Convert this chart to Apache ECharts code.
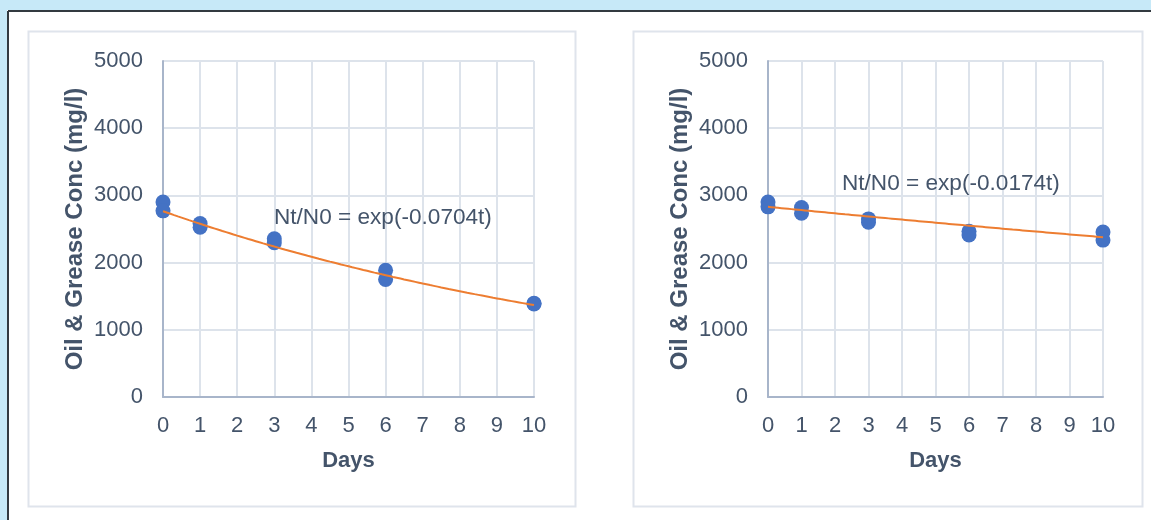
<!DOCTYPE html>
<html>
<head>
<meta charset="utf-8">
<script src="https://cdn.jsdelivr.net/npm/echarts@6/dist/echarts.min.js"></script>
<style>
  html, body { margin: 0; padding: 0; background: #c7e9f8; }
  #chart { width: 1151px; height: 520px; }
</style>
</head>
<body>
<div id="chart"></div>
<script>
// Sampling days and measured oil & grease concentrations (mg/l), two replicates per day
const days = [0, 1, 3, 6, 10];
const concA1 = [2900, 2580, 2355, 1885, 1395];
const concA2 = [2770, 2525, 2295, 1750, 1385];
const concB1 = [2900, 2820, 2650, 2465, 2455];
const concB2 = [2830, 2735, 2600, 2410, 2335];

// First-order decay fits: N = N0 * exp(k t)
const fitA = { n0: 2765, k: -0.0704, label: 'Nt/N0 = exp(-0.0704t)' };
const fitB = { n0: 2830, k: -0.0174, label: 'Nt/N0 = exp(-0.0174t)' };

const xTicks = [0, 1, 2, 3, 4, 5, 6, 7, 8, 9, 10];
const yTicks = [0, 1000, 2000, 3000, 4000, 5000];

const yTitle = 'Oil & Grease Conc (mg/l)';
const xTitle = 'Days';

function pairs(xs, ys) { return xs.map((x, i) => [x, ys[i]]); }
function fitCurve(fit) {
  const pts = [];
  for (let i = 0; i <= 100; i++) {
    const t = i / 10;
    pts.push([t, fit.n0 * Math.exp(fit.k * t)]);
  }
  return pts;
}

const textColor = '#44546a';
const axisLineColor = '#a8b5ca';
const gridColor = '#dde3eb';
const font = 'Liberation Sans, Arial, sans-serif';

function xAxis(gridIndex) {
  return {
    gridIndex, type: 'value', min: 0, max: 10, interval: 1,
    name: xTitle, nameLocation: 'middle', nameGap: 53,
    nameTextStyle: { color: textColor, fontSize: 22, fontWeight: 'bold', fontFamily: font },
    axisLine: { show: true, lineStyle: { color: axisLineColor, width: 2 } },
    axisTick: { show: false },
    axisLabel: { color: textColor, fontSize: 22, fontFamily: font, margin: 18,
      formatter: v => xTicks.includes(v) ? String(v) : '' },
    splitLine: { show: true, lineStyle: { color: gridColor, width: 2 } }
  };
}
function yAxis(gridIndex) {
  return {
    gridIndex, type: 'value', min: 0, max: 5000, interval: 1000,
    name: yTitle, nameLocation: 'middle', nameGap: 76,
    nameTextStyle: { color: textColor, fontSize: 24, fontWeight: 'bold', fontFamily: font },
    axisLine: { show: true, lineStyle: { color: axisLineColor, width: 2 } },
    axisTick: { show: false },
    axisLabel: { color: textColor, fontSize: 22, fontFamily: font, margin: 20,
      formatter: v => yTicks.includes(v) ? String(v) : '' },
    splitLine: { show: true, lineStyle: { color: gridColor, width: 2 } }
  };
}

function pointSeries(idx, data) {
  return {
    type: 'scatter', xAxisIndex: idx, yAxisIndex: idx, data,
    symbol: 'circle', symbolSize: 15, z: 3,
    itemStyle: { color: '#4472c4', opacity: 1 }
  };
}
function fitSeries(idx, fit) {
  return {
    type: 'line', xAxisIndex: idx, yAxisIndex: idx, data: fitCurve(fit),
    showSymbol: false, smooth: false, z: 4,
    lineStyle: { color: '#ed7d31', width: 2 }
  };
}

const chart = echarts.init(document.getElementById('chart'), null, { renderer: 'canvas' });
chart.setOption({
  animation: false,
  backgroundColor: 'transparent',
  graphic: [
    { type: 'rect', z: -10, shape: { x: 7, y: 10, width: 1144, height: 510 },
      style: { fill: '#ffffff' } },
    { type: 'line', z: -8, shape: { x1: 8, y1: 11, x2: 1151, y2: 11 },
      style: { stroke: '#333a40', lineWidth: 2 } },
    { type: 'line', z: -8, shape: { x1: 8, y1: 11, x2: 8, y2: 520 },
      style: { stroke: '#333a40', lineWidth: 2 } },
    { type: 'rect', z: -9, shape: { x: 28.5, y: 31.5, width: 547, height: 475 },
      style: { fill: '#ffffff', stroke: '#dfe4ec', lineWidth: 2 } },
    { type: 'rect', z: -9, shape: { x: 633.5, y: 31.5, width: 509, height: 475 },
      style: { fill: '#ffffff', stroke: '#dfe4ec', lineWidth: 2 } },
    { type: 'text', z: 10, left: 274, top: 206,
      style: { text: fitA.label, fill: textColor, fontSize: 22.6, fontFamily: font } },
    { type: 'text', z: 10, left: 842, top: 172,
      style: { text: fitB.label, fill: textColor, fontSize: 22.6, fontFamily: font } }
  ],
  grid: [
    { left: 163, top: 61, width: 371, height: 336 },
    { left: 768, top: 61, width: 335, height: 336 }
  ],
  xAxis: [xAxis(0), xAxis(1)],
  yAxis: [yAxis(0), yAxis(1)],
  series: [
    fitSeries(0, fitA),
    pointSeries(0, pairs(days, concA1)),
    pointSeries(0, pairs(days, concA2)),
    fitSeries(1, fitB),
    pointSeries(1, pairs(days, concB1)),
    pointSeries(1, pairs(days, concB2))
  ]
});
</script>
</body>
</html>
